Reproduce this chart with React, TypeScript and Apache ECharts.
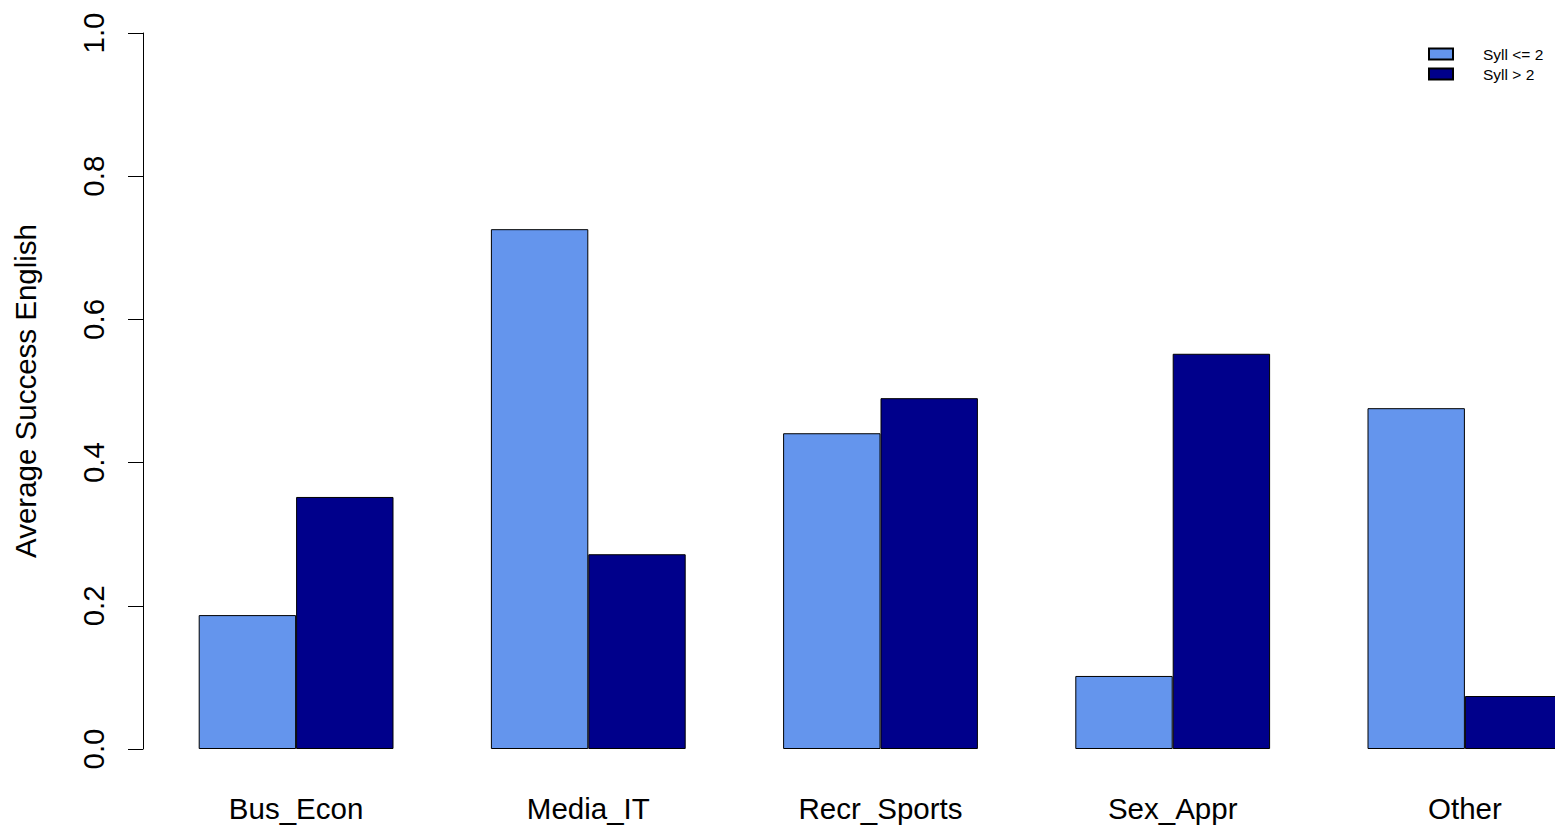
import React, { useEffect, useRef } from "react";
import * as echarts from "echarts";

const categories = ["Bus_Econ", "Media_IT", "Recr_Sports", "Sex_Appr", "Other"];
const seriesNames = ["Syll <= 2", "Syll > 2"];
const syllLow = [0.187, 0.726, 0.441, 0.102, 0.476];
const syllHigh = [0.352, 0.272, 0.49, 0.552, 0.074];
const yTicks = [0, 0.2, 0.4, 0.6, 0.8, 1.0];

const FONT = "'Liberation Sans', Arial, Helvetica, sans-serif";
const FS = 29.5;

export default function App() {
  const ref = useRef<HTMLDivElement>(null);
  useEffect(() => {
    const chart = echarts.init(ref.current!, null, { renderer: "svg" });
    chart.setOption({
      animation: false,
      backgroundColor: "#ffffff",
      textStyle: { fontFamily: FONT, color: "#000" },
      grid: { left: 150, right: 0, top: 33, bottom: 76, containLabel: false },
      legend: {
        orient: "vertical",
        left: 1428,
        top: 46,
        padding: 0,
        itemWidth: 24,
        itemHeight: 11,
        itemGap: 4,
        icon: "rect",
        data: seriesNames,
        textStyle: { fontFamily: FONT, fontSize: 15.5, color: "#000", padding: [0, 0, 0, 25] },
      },
      xAxis: {
        type: "category",
        data: categories,
        axisLine: { show: false },
        axisTick: { show: false },
        axisLabel: { fontFamily: FONT, fontSize: FS, color: "#000", margin: 44 },
      },
      yAxis: {
        type: "value",
        min: yTicks[0],
        max: yTicks[yTicks.length - 1],
        interval: 0.2,
        offset: 7,
        name: "Average Success English",
        nameLocation: "middle",
        nameRotate: 90,
        nameGap: 103,
        nameTextStyle: { fontFamily: FONT, fontSize: FS, color: "#000" },
        axisLine: { show: true, lineStyle: { color: "#000", width: 1 } },
        axisTick: { show: true, length: 15, lineStyle: { color: "#000", width: 1 } },
        splitLine: { show: false },
        axisLabel: {
          fontFamily: FONT,
          fontSize: FS,
          color: "#000",
          rotate: 90,
          margin: 35,
          formatter: (v: number) => v.toFixed(1),
        },
      },
      series: [
        {
          name: seriesNames[0],
          type: "bar",
          data: syllLow,
          barWidth: 97.4,
          barGap: "0%",
          itemStyle: { color: "#6495ED", borderColor: "#000", borderWidth: 1 },
        },
        {
          name: seriesNames[1],
          type: "bar",
          data: syllHigh,
          barWidth: 97.4,
          barGap: "0%",
          itemStyle: { color: "#00008B", borderColor: "#000", borderWidth: 1 },
        },
      ],
    });
    return () => chart.dispose();
  }, []);
  return (
    <div style={{ position: "absolute", left: 0, top: 0, width: 1555, height: 825, overflow: "hidden" }}>
      <div ref={ref} style={{ width: 1611, height: 825 }} />
    </div>
  );
}
